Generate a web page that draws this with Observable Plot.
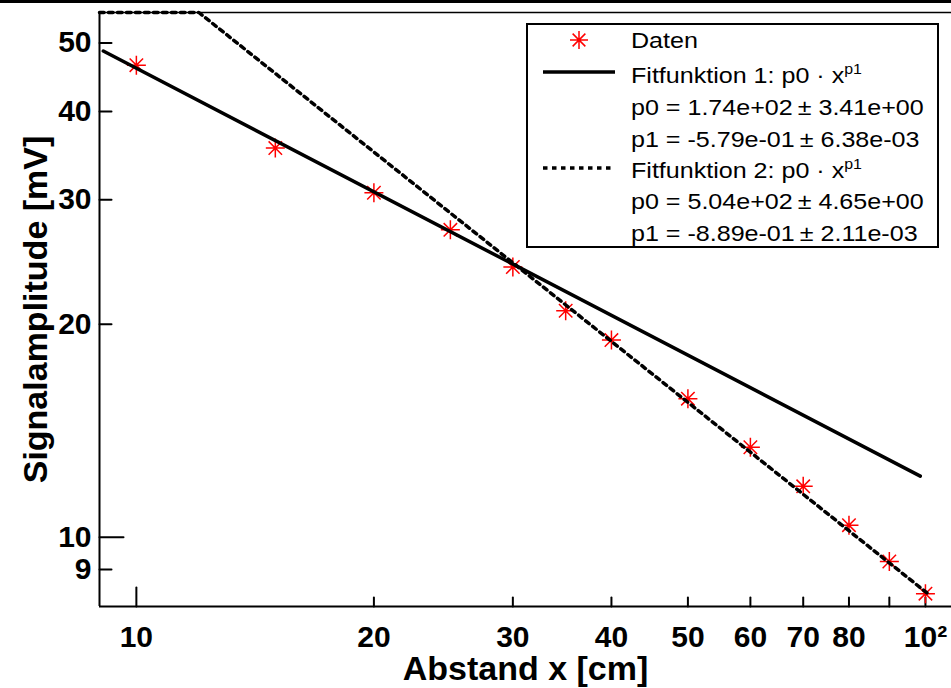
<!DOCTYPE html>
<html><head><meta charset="utf-8">
<script src="https://cdn.jsdelivr.net/npm/d3@7"></script>
<script src="https://cdn.jsdelivr.net/npm/@observablehq/plot@0.6"></script>
<style>
html,body{margin:0;padding:0;background:#fff;}
#wrap{position:relative;width:951px;height:688px;overflow:hidden;}
#topbar{position:absolute;left:0;top:0;width:951px;height:3px;background:#000;}
</style></head><body>
<div id="wrap"><div id="chart"></div><div id="topbar"></div></div>
<script>
// data
const distance  = [10, 15, 20, 25, 30, 35, 40, 50, 60, 70, 80, 90, 100];
const amplitude = [46.5, 35.5, 30.7, 27.2, 24.1, 20.9, 19.0, 15.7, 13.4, 11.8, 10.4, 9.24, 8.32];
const fit1X = [9.08, 98.5];
const fit1Y = [48.7, 12.2];
const fit2X = [8.98, 12.0, 101];
const fit2Y = [55.2, 55.2, 8.3];
const xDomain = [8.98, 107.9];
const yDomain = [7.98, 55.2];
const xTickValues = [10, 20, 30, 40, 50, 60, 70, 80, 100];
const xMajorTicks = [10];
const xMinorTicks = [20, 30, 40, 50, 60, 70, 80, 90, 100];
const yTickValues = [9, 10, 20, 30, 40, 50];
const yMajorTicks = [10];
const yMinorTicks = [9, 20, 30, 40, 50];
const xTitle = "Abstand x [cm]";
const yTitle = "Signalamplitude [mV]";
const legendText = ["Daten", "Fitfunktion 1: p0 \u00b7 x", "p0 = 1.74e+02\u2009\u00b1 3.41e+00", "p1 = -5.79e-01\u2009\u00b1 6.38e-03",
                    "Fitfunktion 2: p0 \u00b7 x", "p0 = 5.04e+02\u2009\u00b1 4.65e+00", "p1 = -8.89e-01\u2009\u00b1 2.11e-03"];
const legendSup  = ["", "p1", "", "", "p1", "", ""];

const dataPts = distance.map((x, i) => ({x, y: amplitude[i]}));
const fit1 = fit1X.map((x, i) => ({x, y: fit1Y[i]}));
const fit2 = fit2X.map((x, i) => ({x, y: fit2Y[i]}));

const tickShape = {draw(ctx, l) { ctx.moveTo(0, 0); ctx.lineTo(0, -l); }};
const star = {draw(ctx, size) {
  const r = Math.sqrt(size / Math.PI), d = r * Math.SQRT1_2;
  ctx.moveTo(-r, 0); ctx.lineTo(r, 0);
  ctx.moveTo(0, -r); ctx.lineTo(0, r);
  ctx.moveTo(-d, -d); ctx.lineTo(d, d);
  ctx.moveTo(-d, d); ctx.lineTo(d, -d);
}};
const FONT = "'Liberation Sans', Arial, Helvetica, sans-serif";
const fmtX = d => d === 100 ? "10\u00b2" : String(d);

const chart = Plot.plot({
  width: 951, height: 688,
  marginLeft: 99, marginRight: 0, marginTop: 12, marginBottom: 82,
  style: {fontFamily: FONT, background: "white", color: "black", fontSize: "30px"},
  x: {type: "log", domain: xDomain, axis: null},
  y: {type: "log", domain: yDomain, axis: null},
  marks: [
    Plot.text(xTickValues, {x: d => d, text: fmtX, frameAnchor: "bottom", dy: 31, lineAnchor: "middle", textAnchor: "middle",
      fontSize: 30, fontWeight: "bold"}),
    Plot.text(yTickValues, {y: d => d, text: d => String(d), frameAnchor: "left", dx: -8, lineAnchor: "middle", textAnchor: "end",
      fontSize: 30, fontWeight: "bold"}),
    Plot.vectorX(xMajorTicks, {frameAnchor: "bottom", length: 19, anchor: "start", shape: tickShape, strokeWidth: 2}),
    Plot.vectorX(xMinorTicks, {frameAnchor: "bottom", length: 9, anchor: "start", shape: tickShape, strokeWidth: 2}),
    Plot.vectorY(yMajorTicks, {frameAnchor: "left", rotate: 90, length: 24, anchor: "start", shape: tickShape, strokeWidth: 2}),
    Plot.vectorY(yMinorTicks, {frameAnchor: "left", rotate: 90, length: 12, anchor: "start", shape: tickShape, strokeWidth: 2}),
    Plot.ruleY([yDomain[1]], {strokeWidth: 1.4}),
    Plot.ruleX([xDomain[0]], {strokeWidth: 2}),
    Plot.ruleY([yDomain[0]], {strokeWidth: 2}),
    Plot.dot(dataPts, {x: "x", y: "y", symbol: star, r: 9.5, stroke: "#ff0000", strokeWidth: 1.5}),
    Plot.line(fit1, {x: "x", y: "y", stroke: "black", strokeWidth: 3.5}),
    Plot.line(fit2, {x: "x", y: "y", stroke: "black", strokeWidth: 3.5, strokeDasharray: "4.5,4.5"}),
    Plot.text([xTitle], {text: d => d, frameAnchor: "bottom", dy: 63, lineAnchor: "middle", textAnchor: "middle",
      fontSize: 34, fontWeight: "bold"}),
    Plot.text([yTitle], {text: d => d, frameAnchor: "left", dx: -63, rotate: -90, lineAnchor: "middle", textAnchor: "middle",
      fontSize: 34, fontWeight: "bold"})
  ]
});
document.getElementById("chart").appendChild(chart);

// legend
const svg = d3.select(chart);
const lg = svg.append("g").attr("text-anchor", "start");
lg.append("rect").attr("x", 527).attr("y", 24).attr("width", 411).attr("height", 223)
  .attr("fill", "white").attr("stroke", "black").attr("stroke-width", 2);
const baselines = [47.7, 83.3, 115, 146.7, 177.7, 209, 240.7];
legendText.forEach((t, i) => {
  const tx = lg.append("text").attr("transform", `translate(631,${baselines[i]}) scale(1.14,1)`)
    .attr("text-anchor", "start").attr("font-family", FONT).attr("font-size", 22).attr("font-weight", "normal")
    .attr("fill", "black").text(t);
  if (legendSup[i]) tx.append("tspan").attr("dy", -9).attr("font-size", 14).text(legendSup[i]);
});
lg.append("path").attr("transform", "translate(579,40)")
  .attr("d", d3.symbol(star, Math.PI * 9 * 9)()).attr("stroke", "#ff0000").attr("stroke-width", 1.5).attr("fill", "none");
lg.append("line").attr("x1", 543).attr("x2", 615).attr("y1", 72).attr("y2", 72).attr("stroke", "black").attr("stroke-width", 3.5);
lg.append("line").attr("x1", 543).attr("x2", 615).attr("y1", 168).attr("y2", 168).attr("stroke", "black").attr("stroke-width", 3.5)
  .attr("stroke-dasharray", "4.5,4.5");
</script>
</body></html>
